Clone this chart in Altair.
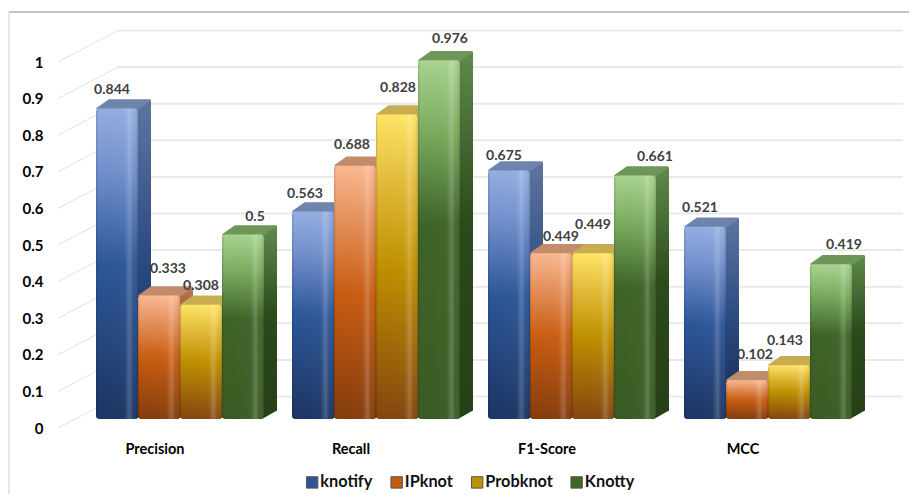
import altair as alt
import pandas as pd

# Scores per metric and per tool
categories = ["Precision", "Recall", "F1-Score", "MCC"]
series = ["knotify", "IPknot", "Probknot", "Knotty"]
knotify = [0.844, 0.563, 0.675, 0.521]
ipknot = [0.333, 0.688, 0.449, 0.102]
probknot = [0.308, 0.828, 0.449, 0.143]
knotty = [0.5, 0.976, 0.661, 0.419]
ticks = [0, 0.1, 0.2, 0.3, 0.4, 0.5, 0.6, 0.7, 0.8, 0.9, 1]
all_values = [knotify, ipknot, probknot, knotty]

# Hand placement of the value labels, in pixels
label_dx = [[-5, -8, -5, -5], [9, -3, 10, 8], [0, 1, 0, -4], [12, 11, 20, 13]]
label_lift = [[20, 19, 16, 20], [28, 22, 18, 27], [20, 28, 30, 26], [19, 23, 20, 21]]

# Pseudo-3D geometry, in pixels
W, H = 851, 366
BAR = 42.0
PITCH = 196 / BAR
START = (96 - 58) / BAR
DEPTH_X = 13 / BAR
DEPTH_Y = 8.5 / H
PLANE = 9 / H           # bars stand a little behind the front edge of the floor
BEVEL = 1.5 / H         # rounded cap adds a little height above the bar's value
WALL_X = 60 / BAR
WALL_Y = 31.5 / H
WALL_END = (903 - 58) / BAR

def px_x(p):
    return p / BAR

def px_y(p):
    return p / H

x_scale = alt.Scale(domain=[0, W / BAR], nice=False, zero=False)
y_scale = alt.Scale(domain=[0, 1], nice=False, zero=False)
y_axis = alt.Axis(
    values=ticks, format="~g", grid=False, domain=False, ticks=False,
    labelPadding=15, labelFont="Lato", labelFontSize=15, labelFontWeight="bold",
    labelColor="#000000",
)
X = alt.X("x:Q", scale=x_scale, axis=None)
X2 = alt.X2("x2:Q")
Y = alt.Y("y:Q", scale=y_scale, title=None, axis=y_axis)
Y2 = alt.Y2("y2:Q")


def grad(stops, horizontal=False):
    return alt.Gradient(
        gradient="linear",
        stops=[alt.GradientStop(offset=o, color=c) for o, c in stops],
        x1=0, y1=0,
        x2=1 if horizontal else 0,
        y2=0 if horizontal else 1,
    )


palette = {
    "knotify": dict(
        solid="#2f5597", top="#6f84ad",
        front=[(0, "#93aee0"), (0.18, "#7693cf"), (0.5, "#2d5799"), (1, "#1c3563")],
        side=[(0, "#5f759f"), (0.5, "#2a4a82"), (1, "#16294f")],
    ),
    "IPknot": dict(
        solid="#c55a11", top="#c08c6b",
        front=[(0, "#fab891"), (0.22, "#e48f5a"), (0.5, "#c95d12"), (1, "#843c0c")],
        side=[(0, "#b5764f"), (0.5, "#8e4410"), (1, "#5e2b08")],
    ),
    "Probknot": dict(
        solid="#bf9000", top="#c8ad50",
        front=[(0, "#ffe566"), (0.22, "#e3bb3a"), (0.5, "#bf9000"), (1, "#84450f")],
        side=[(0, "#b89a3c"), (0.5, "#8f6c00"), (1, "#5e3c0a")],
    ),
    "Knotty": dict(
        solid="#3f6826", top="#6f9659",
        front=[(0, "#a9d38f"), (0.2, "#7aab5e"), (0.46, "#3e6327"), (1, "#3a5c24")],
        side=[(0, "#5f8a4c"), (0.46, "#2c4a1a"), (1, "#253f17")],
    ),
}

sheen = grad([
    (0, "rgba(0,0,0,0.16)"), (0.05, "rgba(0,0,0,0)"), (0.68, "rgba(255,255,255,0.02)"),
    (0.8, "rgba(255,255,255,0.2)"), (0.9, "rgba(255,255,255,0.02)"), (1, "rgba(0,0,0,0.16)"),
], horizontal=True)

# Back wall gridlines and the diagonals running across the side wall
grid_rows = [dict(x=WALL_X, x2=WALL_END, y=t + WALL_Y) for t in ticks]
diag_rows = [dict(x=0, x2=WALL_X, y=t, y2=t + WALL_Y) for t in ticks]

grid = alt.Chart(pd.DataFrame(grid_rows)).mark_rule(color="#e9e9e9", strokeWidth=2).encode(x=X, x2=X2, y=Y)
diag = alt.Chart(pd.DataFrame(diag_rows)).mark_rule(color="#e2e2e2", strokeWidth=1).encode(x=X, x2=X2, y=Y, y2=Y2)

# Outer frame of the chart
frame_src = pd.DataFrame({"a": [0]})
frame_top = alt.Chart(frame_src).mark_rule(color="#aeaeae", strokeWidth=1.5).encode(
    x=alt.value(-49), x2=alt.value(W), y=alt.value(-50))
frame_left = alt.Chart(frame_src).mark_rule(color="#e0e0e0", strokeWidth=1.5).encode(
    x=alt.value(-49), y=alt.value(-50), y2=alt.value(H + 66))

# Hidden layer that only supplies the colour legend
legend_src = pd.DataFrame({"tool": series, "x": [0] * 4, "y": [0] * 4})
legend_layer = alt.Chart(legend_src).mark_square(opacity=0).encode(
    x=X, y=Y,
    color=alt.Color("tool:N", scale=alt.Scale(domain=series, range=[palette[s]["solid"] for s in series]),
                    legend=alt.Legend(
                        title=None, orient="none", direction="horizontal", columns=4,
                        legendX=246, legendY=H + 46, symbolType="square", symbolSize=130,
                        symbolOpacity=1, symbolStrokeWidth=1, symbolStrokeColor="#555555",
                        labelFont="Lato", labelFontSize=16.3, labelFontWeight="bold",
                        labelColor="#111111", columnPadding=15.5, labelOffset=0,
                    )),
)

layers = [grid, diag, frame_top, frame_left, legend_layer]

label_rows = []
for si, (name, vals) in enumerate(zip(series, all_values)):
    fronts, sides, tops = [], [], []
    for ci, v in enumerate(vals):
        x0 = START + ci * PITCH + si
        x1 = x0 + 1
        bottom = PLANE
        top = v + PLANE + BEVEL
        bar_id = f"{name}-{ci}"
        fronts.append(dict(x=x0, x2=x1, y=top, y2=bottom))
        sides.append(dict(bar=bar_id, x=x1 - px_x(2), y=top, y2=bottom))
        sides.append(dict(bar=bar_id, x=x1 + DEPTH_X, y=top + DEPTH_Y, y2=bottom + DEPTH_Y))
        tops.extend([
            dict(bar=bar_id, x=x0 + px_x(1), y=top, y2=top),
            dict(bar=bar_id, x=x0 + DEPTH_X, y=top, y2=top + DEPTH_Y),
            dict(bar=bar_id, x=x1, y=top, y2=top + DEPTH_Y),
            dict(bar=bar_id, x=x1 + DEPTH_X - px_x(1), y=top + DEPTH_Y, y2=top + DEPTH_Y),
        ])
        label_rows.append(dict(
            x=x0 + 0.5 + px_x(label_dx[si][ci]),
            y=v + PLANE + px_y(label_lift[si][ci]),
            text=f"{v:g}",
        ))
    style = palette[name]
    layers.append(alt.Chart(pd.DataFrame(sides)).mark_area(color=grad(style["side"])).encode(
        x=X, y=Y, y2=Y2, detail="bar:N"))
    layers.append(alt.Chart(pd.DataFrame(tops)).mark_area(
        color=style["top"], stroke=style["top"], strokeWidth=1.5, strokeJoin="round").encode(
        x=X, y=Y, y2=Y2, detail="bar:N"))
    front_df = pd.DataFrame(fronts)
    layers.append(alt.Chart(front_df).mark_bar(color=grad(style["front"]), cornerRadius=3).encode(
        x=X, x2=X2, y=Y, y2=Y2))
    layers.append(alt.Chart(front_df).mark_bar(color=sheen, cornerRadius=3).encode(
        x=X, x2=X2, y=Y, y2=Y2))

labels = alt.Chart(pd.DataFrame(label_rows)).mark_text(
    font="Lato", fontSize=14, fontWeight="bold", color="#404040", baseline="middle", align="center",
).encode(x=X, y=Y, text="text:N")
layers.append(labels)

# Metric names below the floor
cat_rows = [dict(x=START + i * PITCH + 2 - px_x(25), text=c) for i, c in enumerate(categories)]
cat_text = alt.Chart(pd.DataFrame(cat_rows)).mark_text(
    font="Lato", fontSize=14.5, fontWeight="bold", color="#000000", baseline="middle", align="center",
).encode(x=X, y=alt.value(H + 22), text="text:N")
layers.append(cat_text)

chart = alt.layer(*layers).properties(
    width=W, height=H,
    padding={"left": 58, "top": 62, "right": 0, "bottom": 66},
    autosize=alt.AutoSizeParams(type="none"),
    background="#ffffff",
).configure_view(strokeWidth=0)

chart.save("out.html", embed_options={"renderer": "svg", "actions": False})
